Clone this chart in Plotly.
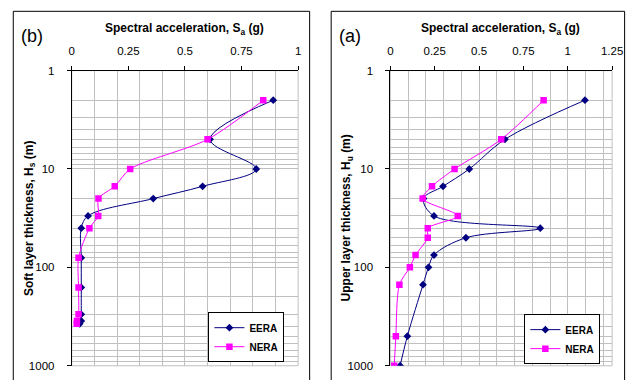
import plotly.graph_objects as go

# ---------------- data ----------------
# Panel (b): soft layer thickness H_s (m) vs spectral acceleration S_a (g)
H_b = [2, 5, 10, 15, 20, 30, 40, 80, 160, 300, 350, 375]
EERA_b = [0.89, 0.611, 0.815, 0.578, 0.36, 0.072, 0.042, 0.042, 0.042, 0.042, 0.042, 0.035]
NERA_b = [0.846, 0.60, 0.258, 0.19, 0.118, 0.117, 0.078, 0.030, 0.030, 0.030, 0.023, 0.022]

# Panel (a): upper layer thickness H_u (m) vs spectral acceleration S_a (g)
H_a = [2, 5, 10, 15, 20, 30, 40, 50, 75, 100, 150, 500, 1000]
EERA_a = [1.097, 0.646, 0.445, 0.297, 0.187, 0.246, 0.845, 0.426, 0.246, 0.215, 0.184, 0.096, 0.055]
NERA_a = [0.864, 0.625, 0.362, 0.235, 0.182, 0.38, 0.211, 0.211, 0.142, 0.11, 0.051, 0.031, 0.022]

x_ticks_b = [0, 0.25, 0.5, 0.75, 1]
x_labels_b = ["0", "0.25", "0.5", "0.75", "1"]
x_ticks_a = [0, 0.25, 0.5, 0.75, 1, 1.25]
x_labels_a = ["0", "0.25", "0.5", "0.75", "1", "1.25"]
# vertical gridlines every 0.1 (tiny nudge keeps those sharing a major tick from being dropped)
x_grid_b = [0.1, 0.2, 0.3, 0.4, 0.50001, 0.6, 0.7, 0.8, 0.9]
x_grid_a = [0.1, 0.2, 0.3, 0.4, 0.50001, 0.6, 0.7, 0.8, 0.9, 1.00001, 1.1, 1.2]
y_ticks = [1, 10, 100, 1000]
y_labels = ["1", "10", "100", "1000"]
y_minor = [m * d for d in (1, 10, 100) for m in range(2, 10)]

NAVY = "#000080"
MAG = "#FF00FF"
GRID = "#C0C0C0"
FONT = "Liberation Sans, Arial, sans-serif"

W, H = 641, 380


def px(v):
    return v / W


def py(v):
    return 1 - v / H


fig = go.Figure()

fig.add_trace(go.Scatter(x=EERA_b, y=H_b, name="EERA", mode="lines+markers",
                         line=dict(color=NAVY, width=1, shape="spline", smoothing=1),
                         marker=dict(symbol="diamond", size=6, color=NAVY),
                         xaxis="x", yaxis="y", legend="legend"))
fig.add_trace(go.Scatter(x=NERA_b, y=H_b, name="NERA", mode="lines+markers",
                         line=dict(color=MAG, width=1, shape="spline", smoothing=0.8),
                         marker=dict(symbol="square", size=6.5, color=MAG),
                         xaxis="x", yaxis="y", legend="legend"))
fig.add_trace(go.Scatter(x=EERA_a, y=H_a, name="EERA", mode="lines+markers",
                         line=dict(color=NAVY, width=1, shape="spline", smoothing=1),
                         marker=dict(symbol="diamond", size=6, color=NAVY),
                         xaxis="x2", yaxis="y2", legend="legend2"))
fig.add_trace(go.Scatter(x=NERA_a, y=H_a, name="NERA", mode="lines+markers",
                         line=dict(color=MAG, width=1, shape="spline", smoothing=0.8),
                         marker=dict(symbol="square", size=6.5, color=MAG),
                         xaxis="x2", yaxis="y2", legend="legend2"))

dom_b = [px(70.3), px(301.7)]
dom_a = [px(396), px(622.7)]
ydom = [py(371.5), py(66.7)]

tickfont = dict(family=FONT, size=11.5, color="black")


def xaxis_cfg(domain, rng, ticks, labels, grid, anchor):
    return dict(domain=domain, range=rng, anchor=anchor, side="top",
                tickmode="array", tickvals=ticks, ticktext=labels,
                showgrid=False, zeroline=False, showline=True, linecolor="black",
                linewidth=1, ticks="outside", ticklen=4, tickcolor="black",
                tickfont=tickfont, ticklabelstandoff=6,
                minor=dict(tickmode="array", tickvals=grid, showgrid=True,
                           gridcolor=GRID, gridwidth=1, ticks=""))


yax = dict(type="log", range=[3, 0], tickmode="array", tickvals=y_ticks, ticktext=y_labels,
           showgrid=True, gridcolor=GRID, gridwidth=1, showline=True, linecolor="black",
           linewidth=1, ticks="outside", ticklen=4, tickcolor="black", zeroline=False,
           tickfont=tickfont, ticklabelstandoff=10,
           minor=dict(tickmode="array", tickvals=y_minor, showgrid=True, gridcolor=GRID,
                      gridwidth=1, ticks=""))

legfont = dict(family=FONT, size=10, color="black", weight="bold")

fig.update_layout(
    width=W, height=H, margin=dict(l=0, r=0, t=0, b=0),
    paper_bgcolor="white", plot_bgcolor="white",
    font=dict(family=FONT, color="black"),
    xaxis=xaxis_cfg(dom_b, [0, 1], x_ticks_b, x_labels_b, x_grid_b, "y"),
    yaxis=dict(domain=ydom, anchor="x", **yax),
    xaxis2=xaxis_cfg(dom_a, [0, 1.25], x_ticks_a, x_labels_a, x_grid_a, "y2"),
    yaxis2=dict(domain=ydom, anchor="x2", **yax),
    legend=dict(x=px(210), y=py(342), xanchor="left", yanchor="middle",
                bordercolor="black", borderwidth=1, bgcolor="white",
                font=legfont, itemwidth=30, tracegroupgap=0),
    legend2=dict(x=px(533), y=py(344), xanchor="left", yanchor="middle",
                 bordercolor="black", borderwidth=1, bgcolor="white",
                 font=legfont, itemwidth=30, tracegroupgap=0),
    showlegend=True,
)

shapes = [
    dict(type="rect", xref="paper", yref="paper", x0=px(10.5), x1=px(313.5), y0=-0.05, y1=py(5.5),
         line=dict(color="black", width=1), layer="below"),
    dict(type="rect", xref="paper", yref="paper", x0=px(335.5), x1=px(635.5), y0=-0.05, y1=py(5.5),
         line=dict(color="black", width=1), layer="below"),
    dict(type="rect", xref="x domain", yref="y domain", x0=0, x1=1, y0=0, y1=1,
         line=dict(color=GRID, width=1), layer="below"),
    dict(type="rect", xref="x2 domain", yref="y2 domain", x0=0, x1=1, y0=0, y1=1,
         line=dict(color=GRID, width=1), layer="below"),
]
fig.update_layout(shapes=shapes)

title_font = dict(family=FONT, size=12, color="black", weight="bold")
ann = [
    dict(text="Spectral acceleration, S<sub>a</sub> (g)", x=px(186), y=py(24), xref="paper",
         yref="paper", showarrow=False, font=title_font, xanchor="center", yanchor="middle"),
    dict(text="Spectral acceleration, S<sub>a</sub> (g)", x=px(509), y=py(24), xref="paper",
         yref="paper", showarrow=False, font=title_font, xanchor="center", yanchor="middle"),
    dict(text="Soft layer thickness, H<sub>s</sub> (m)", x=px(27.5), y=py(219), xref="paper",
         yref="paper", showarrow=False, font=title_font, textangle=-90,
         xanchor="center", yanchor="middle"),
    dict(text="Upper layer thickness, H<sub>u</sub> (m)", x=px(352), y=py(219), xref="paper",
         yref="paper", showarrow=False, font=title_font, textangle=-90,
         xanchor="center", yanchor="middle"),
    dict(text="(b)", x=px(30), y=py(31), xref="paper", yref="paper", showarrow=False,
         font=dict(family=FONT, size=18, color="black"), xanchor="center", yanchor="middle"),
    dict(text="(a)", x=px(354.5), y=py(31), xref="paper", yref="paper", showarrow=False,
         font=dict(family=FONT, size=18, color="black"), xanchor="center", yanchor="middle"),
]
fig.update_layout(annotations=ann)

fig.write_html("out.html")
